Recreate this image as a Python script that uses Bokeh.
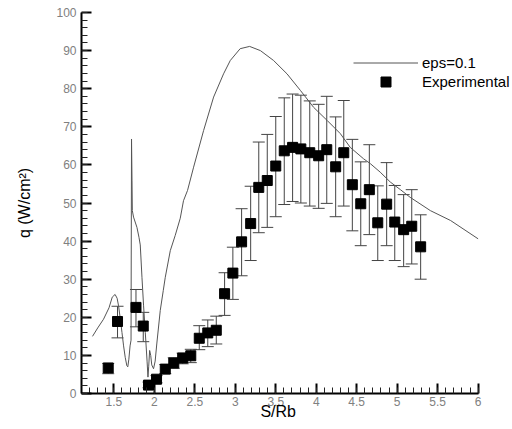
from bokeh.plotting import figure
from bokeh.models import (Range1d, FixedTicker, ColumnDataSource, Whisker, TeeHead,
                          Legend, LegendItem)
from bokeh.embed import file_html
from bokeh.resources import INLINE

# Computed curve eps=0.1
curve_x = [1.236, 1.30, 1.372, 1.44, 1.48, 1.515, 1.54, 1.558, 1.58, 1.60, 1.62, 1.64,
           1.66, 1.672, 1.685, 1.70, 1.712, 1.718, 1.724, 1.728, 1.743, 1.785, 1.81,
           1.826, 1.847, 1.867, 1.888, 1.91, 1.921, 1.93, 1.942, 1.955, 1.968, 1.99,
           2.01, 2.03, 2.073, 2.11, 2.135, 2.197, 2.258, 2.32, 2.36, 2.41, 2.485,
           2.608, 2.732, 2.855, 2.938, 3.06, 3.177, 3.31, 3.473, 3.639, 3.806, 3.968,
           4.133, 4.298, 4.42, 4.585, 4.67, 4.79, 4.915, 5.04, 5.16, 5.41, 5.66, 6.0]
curve_y = [15.0, 17.2, 19.5, 22.5, 25.3, 26.0, 25.0, 23.0, 19.5, 16.0, 12.5, 9.5,
           7.3, 7.0, 9.0, 12.5, 14.0, 66.8, 56.0, 48.0, 46.3, 43.6, 41.0,
           39.0, 30.5, 23.0, 16.0, 8.5, 4.3, 7.0, 11.3, 10.0, 7.5, 6.5,
           8.5, 13.0, 21.8, 27.0, 30.5, 37.5, 41.5, 46.0, 50.6, 53.3, 59.4,
           69.0, 77.8, 83.9, 87.4, 90.5, 91.1, 90.0, 87.4, 83.9, 79.5, 75.1,
           71.7, 68.2, 64.6, 61.6, 60.3, 58.1, 55.5, 53.5, 51.5, 48.0, 45.4, 40.6]

# Experimental data with error bounds
exp_x = [1.43, 1.545, 1.773, 1.863, 1.928, 2.027, 2.135, 2.24, 2.35, 2.45, 2.555, 2.66,
         2.765, 2.868, 2.97, 3.078, 3.19, 3.29, 3.395, 3.50, 3.605, 3.708, 3.81, 3.92,
         4.03, 4.13, 4.24, 4.34, 4.446, 4.55, 4.656, 4.76, 4.87, 4.97, 5.08, 5.18, 5.29]
exp_y = [6.7, 18.9, 22.6, 17.7, 2.2, 3.75, 6.4, 8.0, 9.3, 9.9, 14.5, 15.9,
         16.6, 26.2, 31.6, 39.8, 44.6, 54.1, 55.9, 59.7, 63.7, 64.6, 64.2, 63.2,
         62.4, 64.0, 59.5, 63.2, 54.8, 49.8, 53.5, 44.8, 49.7, 45.0, 43.0, 43.9, 38.5]
exp_lo = [5.2, 14.6, 17.5, 13.6, 1.5, 2.8, 5.2, 6.6, 7.8, 8.1, 11.5, 12.3,
          13.0, 20.5, 24.7, 30.9, 34.9, 42.2, 43.6, 46.4, 49.6, 50.4, 50.0, 49.2,
          48.6, 49.9, 46.4, 49.2, 42.7, 38.8, 41.7, 34.9, 38.8, 34.9, 33.3, 34.0, 30.0]
exp_hi = [7.9, 22.9, 27.3, 21.3, 3.0, 4.7, 7.6, 9.4, 10.6, 11.6, 17.8, 19.3,
          20.3, 31.7, 38.4, 48.5, 54.4, 66.0, 68.0, 72.7, 77.6, 78.6, 78.3, 76.8,
          75.9, 78.0, 72.6, 76.9, 66.7, 60.8, 65.3, 54.5, 60.6, 54.6, 52.2, 53.5, 46.9]

x_ticks = [1.5, 2, 2.5, 3, 3.5, 4, 4.5, 5, 5.5, 6]
x_tick_labels = ["1.5", "2", "2.5", "3", "3.5", "4", "4.5", "5", "5.5", "6"]
x_minor = [round(1.1 + 0.1 * i, 2) for i in range(50)]
y_ticks = [0, 10, 20, 30, 40, 50, 60, 70, 80, 90, 100]
y_minor = list(range(0, 101, 2))

p = figure(width=512, height=429, output_backend="svg", toolbar_location=None,
           x_range=Range1d(1.1, 6.4), y_range=Range1d(0, 100),
           min_border_left=81, min_border_right=2, min_border_top=12,
           min_border_bottom=36)
p.outline_line_color = None
p.xgrid.visible = False
p.ygrid.visible = False
p.background_fill_color = "white"
p.border_fill_color = "white"

src = ColumnDataSource(dict(x=exp_x, y=exp_y, lo=exp_lo, hi=exp_hi))

line_r = p.line(curve_x, curve_y, line_color="#555555", line_width=1)
w = Whisker(source=src, base="x", lower="lo", upper="hi",
            line_color="#444444", line_width=1,
            upper_head=TeeHead(size=12, line_color="#444444", line_width=1),
            lower_head=TeeHead(size=12, line_color="#444444", line_width=1))
p.add_layout(w)
sq_r = p.scatter("x", "y", source=src, marker="square", size=10,
                 fill_color="black", line_color="black")

for ax in (p.xaxis[0], p.yaxis[0]):
    ax.axis_line_width = 2
    ax.axis_line_color = "black"
    ax.major_tick_in = 10
    ax.major_tick_out = 0
    ax.minor_tick_in = 6
    ax.minor_tick_out = 0
    ax.major_tick_line_width = 2
    ax.minor_tick_line_width = 1
    ax.major_tick_line_color = "black"
    ax.minor_tick_line_color = "#222222"
    ax.major_label_text_font = "Liberation Sans"
    ax.major_label_text_font_size = "12px"
    ax.major_label_text_color = "#808080"
    ax.axis_label_text_font = "Liberation Sans"
    ax.axis_label_text_font_size = "16px"
    ax.axis_label_text_font_style = "normal"
    ax.axis_label_text_color = "black"

p.xaxis[0].ticker = FixedTicker(ticks=x_ticks, minor_ticks=x_minor)
p.xaxis[0].major_label_overrides = {t: l for t, l in zip(x_ticks, x_tick_labels)}
# trailing no-break spaces centre the title under the drawn part of the axis (1.1 .. 6)
p.xaxis[0].axis_label = "S/Rb" + "\u00a0" * 8
p.xaxis[0].bounds = (1.1, 6.0)
p.xaxis[0].major_label_standoff = 3
p.xaxis[0].axis_label_standoff = -6

p.yaxis[0].ticker = FixedTicker(ticks=y_ticks, minor_ticks=y_minor)
p.yaxis[0].axis_label = "q (W/cm\u00b2)"
p.yaxis[0].major_label_standoff = 5
p.yaxis[0].axis_label_standoff = 20

leg_style = dict(orientation="vertical", border_line_color=None,
                 background_fill_alpha=0, padding=0, margin=0, spacing=0,
                 glyph_width=65, label_standoff=4,
                 label_text_font="Liberation Sans", label_text_font_size="15px",
                 label_text_color="black")
legend1 = Legend(items=[LegendItem(label="eps=0.1", renderers=[line_r])],
                 location=(272, 321), glyph_height=19, label_height=19, **leg_style)
legend2 = Legend(items=[LegendItem(label="Experimental", renderers=[sq_r])],
                 location=(272, 299), glyph_height=25, label_height=25, **leg_style)
p.add_layout(legend1, "center")
p.add_layout(legend2, "center")

open("out.html", "w").write(file_html(p, INLINE))
